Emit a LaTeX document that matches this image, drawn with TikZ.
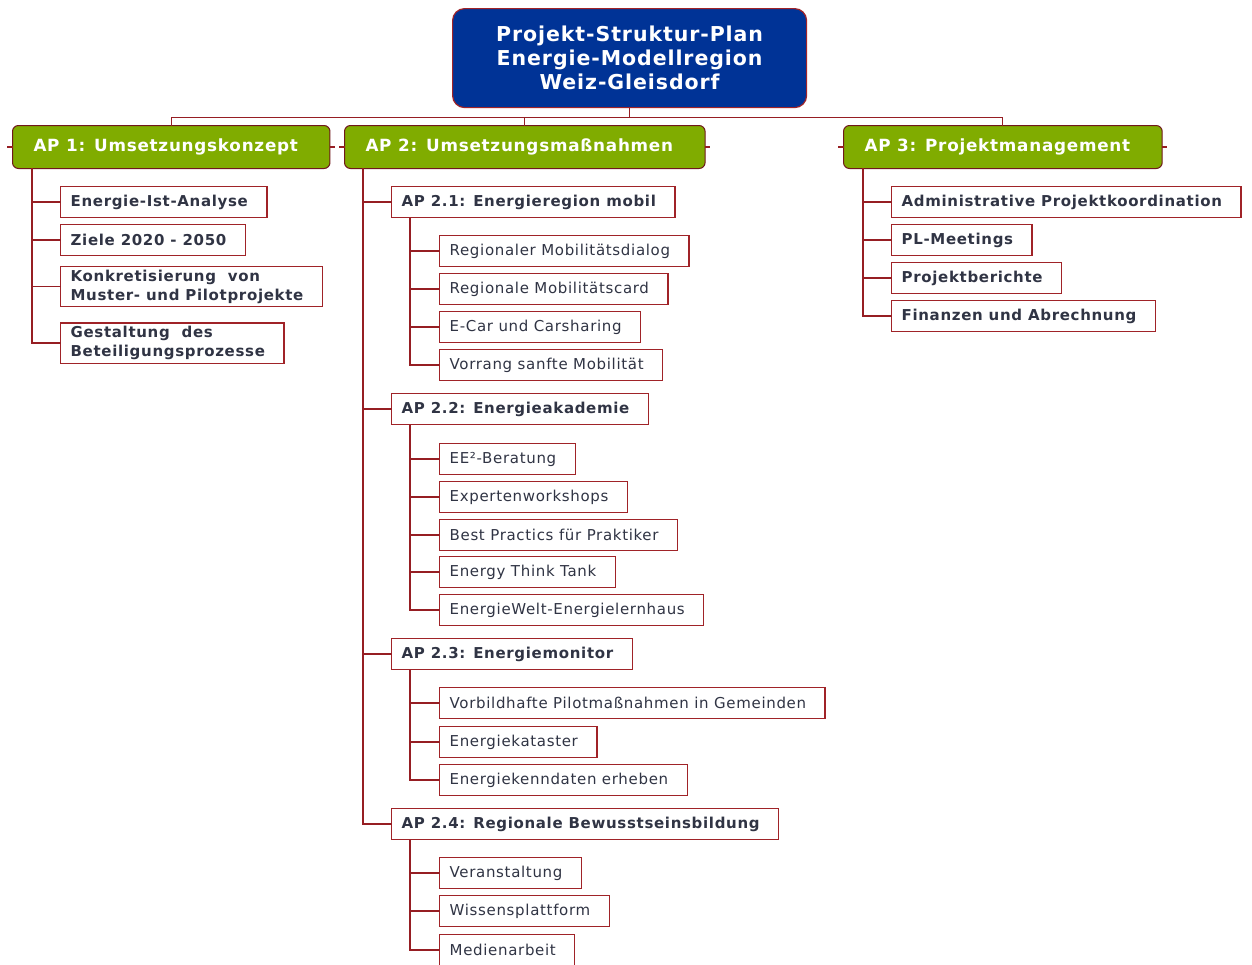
\documentclass[tikz,border=0pt]{standalone}
\usepackage{fontspec}
\setmainfont[LetterSpace=4.5]{DejaVu Sans}
\usetikzlibrary{positioning}

\definecolor{linered}{RGB}{150,30,35}
\definecolor{boxred}{RGB}{160,35,40}
\definecolor{txtgray}{RGB}{48,52,68}
\definecolor{apgreen}{RGB}{128,172,0}
\definecolor{headblue}{RGB}{0,51,150}

\tikzset{
  headbox/.style={draw=boxred,line width=1.2pt,fill=headblue,rounded corners=12pt,
    text=white,font=\fontsize{20.5}{24}\selectfont\bfseries,align=center,
    minimum width=354pt,minimum height=99pt,anchor=north west},
  apbox/.style={draw=boxred!70!black,line width=1pt,fill=apgreen,rounded corners=6pt,
    text=white,font=\fontsize{16.8}{18}\selectfont\bfseries,
    minimum height=43pt,inner xsep=21pt,anchor=north west,
    execute at end node=\hspace*{11pt}},
  subbox/.style={draw=boxred,line width=1.3pt,fill=white,text=txtgray,
    font=\fontsize{15}{19}\selectfont\bfseries,minimum height=31pt,
    inner xsep=10pt,anchor=west,execute at end node=\hspace*{9pt}},
  itembox/.style={subbox,font=\fontsize{15}{19}\selectfont},
  itemboldbox/.style={subbox,align=left},
  conn/.style={draw=linered,line width=1.1pt},
}

\begin{document}
\begin{tikzpicture}[x=1pt,y=-1pt,line cap=rect]
  \useasboundingbox[fill=white] (0,0) rectangle (1252,964);

  % Add Head
  \node[headbox] (head) at (452,8) {Projekt-Struktur-Plan\\Energie-Modellregion\\Weiz-Gleisdorf};

  % Add Work Packages
  \node[apbox] (ap1) at (12,125) {AP 1: Umsetzungskonzept};
  \node[apbox] (ap2) at (344,125) {AP 2: Umsetzungsmaßnahmen};
  \node[apbox] (ap3) at (843,125) {AP 3: Projektmanagement};

  \draw[conn] (head.south) -- ++(0,9) coordinate (hub);
  \draw[conn] (hub) -| (ap1.north);
  \draw[conn] (hub) -| (ap2.north);
  \draw[conn] (hub) -| (ap3.north);
  \foreach \p in {ap1,ap2,ap3} {
    \draw[conn] (\p.west) -- ++(-4,0);
    \draw[conn] (\p.east) -- ++(4,0);
  }

  % AP 1
  \node[itemboldbox] (a11) at (60,202) {Energie-Ist-Analyse};
  \node[itemboldbox] (a12) at (60,240) {Ziele 2020 - 2050};
  \node[itemboldbox] (a13) at (60,286.5) {Konkretisierung\ \ von\\Muster- und Pilotprojekte};
  \node[itemboldbox] (a14) at (60,343) {Gestaltung\ \ des\\Beteiligungsprozesse};
  \foreach \c in {a11,a12,a13,a14}
    \draw[conn] ([xshift=20pt]ap1.south west) |- (\c.west);

  % AP 2
  \node[subbox] (a21) at (391,202) {AP 2.1: Energieregion mobil};
  \node[itembox] (a211) at (439,251) {Regionaler Mobilitätsdialog};
  \node[itembox] (a212) at (439,289) {Regionale Mobilitätscard};
  \node[itembox] (a213) at (439,327) {E-Car und Carsharing};
  \node[itembox] (a214) at (439,365) {Vorrang sanfte Mobilität};

  \node[subbox] (a22) at (391,409) {AP 2.2: Energieakademie};
  \node[itembox] (a221) at (439,459) {EE²-Beratung};
  \node[itembox] (a222) at (439,497) {Expertenworkshops};
  \node[itembox] (a223) at (439,535) {Best Practics für Praktiker};
  \node[itembox] (a224) at (439,572) {Energy Think Tank};
  \node[itembox] (a225) at (439,610) {EnergieWelt-Energielernhaus};

  \node[subbox] (a23) at (391,654) {AP 2.3: Energiemonitor};
  \node[itembox] (a231) at (439,703) {Vorbildhafte Pilotmaßnahmen in Gemeinden};
  \node[itembox] (a232) at (439,742) {Energiekataster};
  \node[itembox] (a233) at (439,780) {Energiekenndaten erheben};

  \node[subbox] (a24) at (391,824) {AP 2.4: Regionale Bewusstseinsbildung};
  \node[itembox] (a241) at (439,873) {Veranstaltung};
  \node[itembox] (a242) at (439,911) {Wissensplattform};
  \node[itembox] (a243) at (439,950) {Medienarbeit};

  \foreach \c in {a21,a22,a23,a24}
    \draw[conn] ([xshift=19pt]ap2.south west) |- (\c.west);
  \foreach \c in {a211,a212,a213,a214}
    \draw[conn] ([xshift=19pt]a21.south west) |- (\c.west);
  \foreach \c in {a221,a222,a223,a224,a225}
    \draw[conn] ([xshift=19pt]a22.south west) |- (\c.west);
  \foreach \c in {a231,a232,a233}
    \draw[conn] ([xshift=19pt]a23.south west) |- (\c.west);
  \foreach \c in {a241,a242,a243}
    \draw[conn] ([xshift=19pt]a24.south west) |- (\c.west);

  % AP 3
  \node[itemboldbox] (a31) at (891,202) {Administrative Projektkoordination};
  \node[itemboldbox] (a32) at (891,240) {PL-Meetings};
  \node[itemboldbox] (a33) at (891,278) {Projektberichte};
  \node[itemboldbox] (a34) at (891,316) {Finanzen und Abrechnung};
  \foreach \c in {a31,a32,a33,a34}
    \draw[conn] ([xshift=20pt]ap3.south west) |- (\c.west);
\end{tikzpicture}
\end{document}
